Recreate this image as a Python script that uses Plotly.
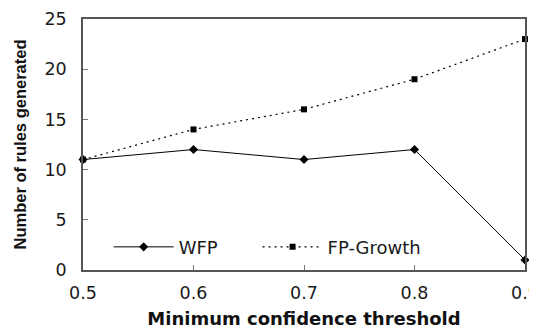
import plotly.graph_objects as go

thresholds = [0.5, 0.6, 0.7, 0.8, 0.9]
tick_labels = ["0.5", "0.6", "0.7", "0.8", "0.9"]
y_ticks = [0, 5, 10, 15, 20, 25]
wfp = [11, 12, 11, 12, 1]
fp_growth = [11, 14, 16, 19, 23]

fig = go.Figure()
fig.add_trace(go.Scatter(
    x=thresholds, y=wfp, name="WFP", mode="lines+markers",
    line=dict(color="black", width=1),
    marker=dict(symbol="diamond", size=7, color="black"),
    cliponaxis=False, legend="legend",
))
fig.add_trace(go.Scatter(
    x=thresholds, y=fp_growth, name="FP-Growth", mode="lines+markers",
    line=dict(color="black", width=1.2, dash="2px,4px"),
    marker=dict(symbol="square", size=6, color="black"),
    cliponaxis=False, legend="legend2",
))

tick_font = dict(family="DejaVu Sans, sans-serif", size=17.5, color="#1a1a1a")
legend_font = dict(family="DejaVu Sans, sans-serif", size=18, color="#1a1a1a")
fig.update_layout(
    width=537, height=332,
    margin=dict(l=75, r=20, t=11, b=70, autoexpand=False),
    paper_bgcolor="white", plot_bgcolor="white",
    font=dict(family="DejaVu Sans, sans-serif", size=17, color="#1a1a1a"),
    showlegend=True,
    legend=dict(orientation="h", x=0.058, y=0.091, xanchor="left", yanchor="middle",
                bgcolor="rgba(0,0,0,0)", font=legend_font, itemwidth=60),
    legend2=dict(orientation="h", x=0.395, y=0.091, xanchor="left", yanchor="middle",
                 bgcolor="rgba(0,0,0,0)", font=legend_font, itemwidth=60),
    xaxis=dict(
        range=[0.5, 0.9], tickvals=thresholds, ticktext=tick_labels, tickfont=tick_font,
        ticks="inside", ticklen=5, tickcolor="#777", showgrid=False, zeroline=False,
        showline=True, linecolor="#555", linewidth=1.5, mirror=True, automargin=False,
        ticklabelstandoff=6,
        title=dict(text="<b>Minimum confidence threshold</b>",
                   font=dict(family="DejaVu Sans, sans-serif", size=18, color="#111"), standoff=11),
    ),
    yaxis=dict(
        range=[0, 25], tickvals=y_ticks, tickfont=tick_font,
        ticks="inside", ticklen=5, tickcolor="#777", showgrid=False, zeroline=False,
        showline=True, linecolor="#555", linewidth=1.5, mirror=True, automargin=False,
        ticklabelstandoff=11,
        title=dict(text="<b>Number of rules generated</b>",
                   font=dict(family="Liberation Sans, Arial, sans-serif", size=16.5, color="#111"), standoff=14),
    ),
)

fig.write_html("out.html")
